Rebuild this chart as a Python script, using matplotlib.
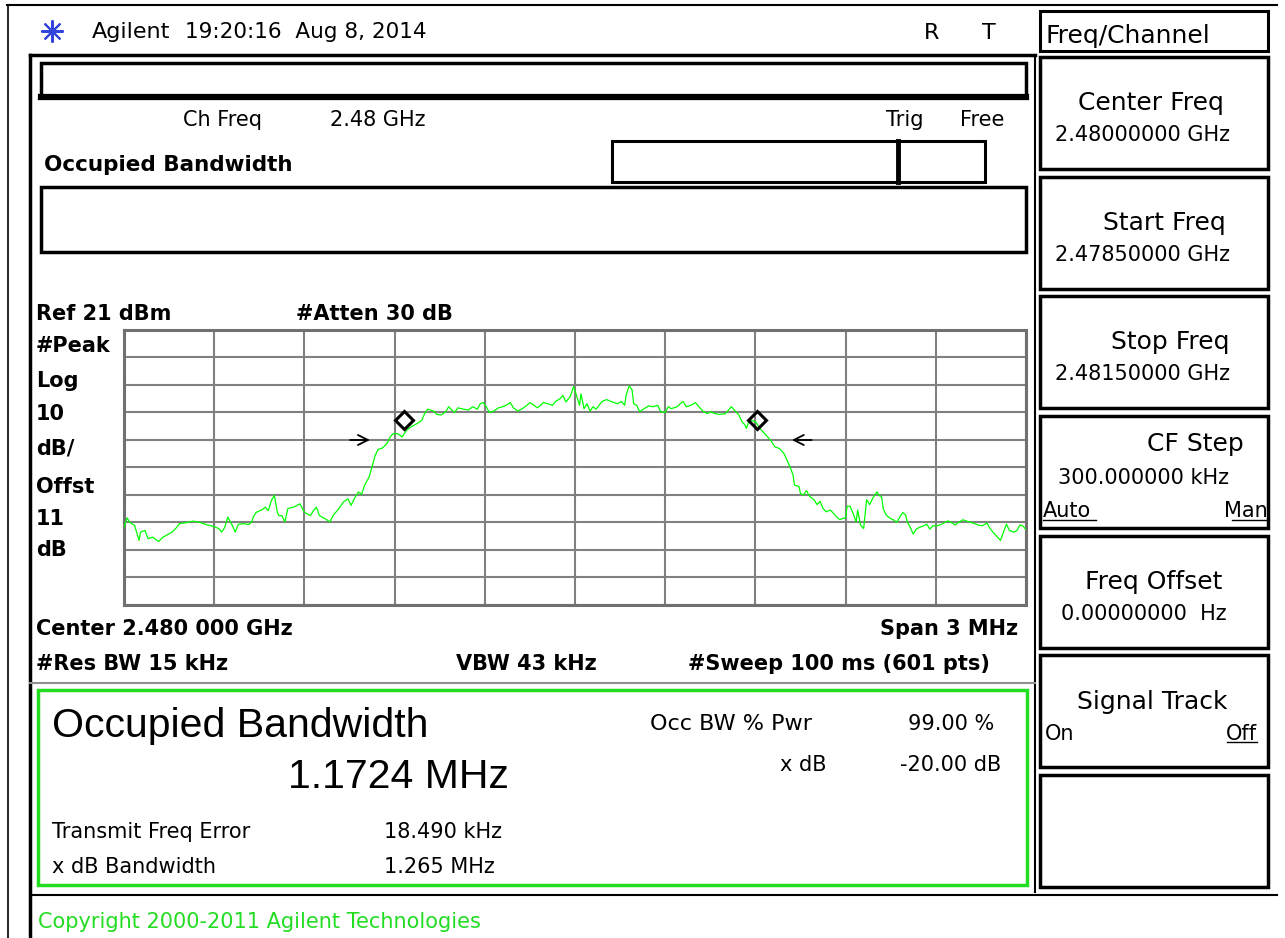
import matplotlib
matplotlib.use("Agg")
from matplotlib import pyplot as plt
from matplotlib.patches import Rectangle

# trace: offset from centre (kHz), level (dBm)
freq_offset_khz = [
    -1500, -1490, -1480, -1465, -1450, -1445, -1430, -1420, -1405, -1385,
    -1370, -1360, -1340, -1325, -1315, -1290, -1270, -1255, -1235, -1220,
    -1205, -1185, -1175, -1165, -1155, -1140, -1130, -1120, -1105, -1085,
    -1075, -1070, -1060, -1040, -1030, -1020, -1010, -1000, -990, -985,
    -975, -965, -955, -935, -915, -900, -880, -870, -860, -850,
    -830, -815, -805, -785, -770, -755, -745, -730, -720, -710,
    -700, -685, -675, -665, -655, -640, -625, -615, -605, -590,
    -575, -560, -545, -525, -510, -500, -490, -470, -460, -445,
    -430, -420, -410, -400, -390, -370, -355, -340, -325, -315,
    -305, -295, -285, -270, -255, -240, -225, -215, -205, -190,
    -175, -160, -150, -140, -125, -115, -105, -90, -75, -65,
    -50, -40, -30, -15, -5, 5, 15, 20, 30, 40,
    50, 60, 70, 90, 105, 120, 140, 155, 165, 170,
    180, 190, 195, 205, 215, 230, 245, 260, 275, 285,
    300, 310, 320, 340, 350, 360, 370, 385, 400, 410,
    425, 440, 450, 465, 480, 500, 515, 520, 530, 545,
    555, 565, 570, 580, 600, 615, 630, 650, 665, 680,
    695, 705, 715, 725, 730, 745, 750, 760, 770, 780,
    795, 805, 815, 825, 835, 850, 860, 870, 880, 900,
    905, 915, 925, 935, 940, 950, 960, 970, 980, 990,
    1000, 1005, 1010, 1020, 1025, 1035, 1050, 1060, 1070, 1080,
    1090, 1100, 1105, 1115, 1125, 1135, 1145, 1160, 1170, 1180,
    1190, 1205, 1220, 1230, 1240, 1255, 1265, 1275, 1290, 1310,
    1325, 1340, 1355, 1370, 1380, 1390, 1405, 1415, 1425, 1435,
    1445, 1460, 1470, 1480, 1490, 1500,
]
level_dbm = [
    -50.8, -47.3, -49.0, -50.0, -55.5, -52.5, -51.9, -54.9, -54.3, -55.9,
    -54.3, -53.7, -52.5, -50.8, -49.4, -49.0, -48.5, -48.8, -49.4, -50.0,
    -50.3, -51.2, -52.5, -50.8, -47.0, -50.0, -52.5, -49.7, -49.4, -49.7,
    -48.8, -47.0, -45.3, -44.3, -43.4, -44.7, -41.1, -39.1, -45.3, -46.5,
    -46.5, -48.8, -43.9, -43.4, -42.2, -45.3, -46.5, -44.7, -43.4, -46.5,
    -47.7, -48.8, -46.5, -43.9, -41.5, -40.4, -42.8, -39.5, -37.9, -38.8,
    -35.5, -32.5, -28.8, -24.7, -22.4, -21.9, -20.2, -17.9, -16.7, -16.7,
    -17.9, -15.4, -14.2, -13.0, -11.9, -9.4, -7.8, -8.5, -9.7, -9.9,
    -8.7, -6.9, -8.1, -9.0, -7.3, -7.8, -8.1, -6.9, -7.8, -5.8,
    -5.4, -6.9, -9.0, -8.5, -7.3, -6.9, -6.1, -5.4, -7.3, -8.5,
    -7.6, -6.4, -5.4, -6.1, -7.3, -6.4, -5.4, -5.8, -6.4, -5.0,
    -4.0, -2.8, -5.2, -3.0, 0.4, -2.8, -6.4, -2.2, -7.6, -5.8,
    -8.5, -6.9, -7.8, -5.0, -4.3, -5.0, -5.8, -5.0, -6.4, -2.8,
    0.7, -0.8, -5.8, -6.4, -8.7, -7.6, -6.6, -6.9, -6.4, -8.7,
    -9.0, -6.9, -7.6, -6.9, -5.8, -5.0, -6.9, -6.4, -5.4, -6.6,
    -8.5, -9.4, -8.7, -9.4, -9.7, -9.4, -7.6, -6.9, -8.1, -9.9,
    -12.3, -13.5, -14.8, -11.7, -12.3, -14.8, -16.6, -19.0, -21.5, -22.1,
    -23.9, -26.3, -28.8, -31.6, -35.4, -35.9, -38.5, -39.0, -37.4, -39.5,
    -40.7, -42.5, -41.3, -43.9, -45.1, -44.5, -45.7, -47.0, -47.9, -47.3,
    -43.1, -43.1, -45.7, -48.8, -44.5, -50.0, -51.2, -40.7, -42.5, -40.2,
    -38.5, -37.9, -39.0, -39.8, -43.9, -46.3, -47.6, -48.1, -49.0, -47.0,
    -45.4, -46.3, -48.8, -50.8, -53.2, -51.4, -50.8, -50.2, -49.6, -51.4,
    -50.2, -50.2, -49.6, -49.0, -48.4, -49.2, -49.9, -49.0, -48.0, -48.8,
    -49.2, -49.9, -50.2, -49.2, -51.1, -52.5, -54.3, -55.5, -52.5, -49.6,
    -51.9, -52.5, -51.9, -49.9, -50.3, -51.6,
]

ref_level = 21
db_per_div = 10
span_khz = 3000
obw_khz = 1172.4
freq_error_khz = 18.49
marker_level = -11.6
arrow_level = -19.0
arrow_tails = [-748, 787]
arrow_tips = [-682, 721]

softkeys = [
    ("Center Freq", "2.48000000 GHz"),
    ("Start Freq", "2.47850000 GHz"),
    ("Stop Freq", "2.48150000 GHz"),
    ("CF Step", "300.000000 kHz"),
    ("Freq Offset", "0.00000000  Hz"),
    ("Signal Track", ""),
    ("", ""),
]
softkey_title_x = [1078, 1103, 1111, 1147, 1085, 1077, 0]

GREEN = '#00ff00'
BOX_GREEN = '#22dd22'

fig = plt.figure(figsize=(12.85, 9.38), dpi=100)
bg = fig.add_axes([0, 0, 1, 1])
bg.set_xlim(0, 1285)
bg.set_ylim(938, 0)
bg.axis('off')


def box(x0, y0, x1, y1, lw=2.2, color='black'):
    bg.add_patch(Rectangle((x0, y0), x1 - x0, y1 - y0, fill=False,
                           lw=lw, edgecolor=color))


def txt(x, y, s, size=15, weight='normal', ha='left', family='DejaVu Sans',
        color='black'):
    return bg.text(x, y, s, fontsize=size, fontweight=weight, ha=ha,
                   va='baseline', family=family, color=color)


# outer frame
bg.plot([7, 1277], [5, 5], color='black', lw=1.5)
bg.plot([8, 8], [5, 938], color='black', lw=1.2)
bg.plot([30, 30], [55, 938], color='black', lw=2.5)
bg.plot([30, 1035], [55, 55], color='black', lw=2.5)
bg.plot([1035, 1035], [55, 892], color='black', lw=1.5)
bg.plot([30, 1277], [895, 895], color='black', lw=1.5)

# header
bg.plot(52, 31, marker=(8, 2, 0), ms=16, mew=1.5, color='#3344dd')
txt(92, 38, 'Agilent', size=16)
txt(185, 38, '19:20:16  Aug 8, 2014', size=15.5)
txt(924, 39, 'R', size=16)
txt(982, 39, 'T', size=16)
box(1040, 11, 1268, 51)
txt(1046, 43, 'Freq/Channel', size=18)

# measurement header boxes
box(41, 63, 1026, 97, lw=2.5)
bg.plot([41, 1026], [97, 97], color='black', lw=4.5)
txt(183, 126, 'Ch Freq')
txt(330, 126, '2.48 GHz')
txt(886, 126, 'Trig')
txt(960, 126, 'Free')
txt(44, 171, 'Occupied Bandwidth', weight='bold', size=15.5)
box(612, 141, 985, 182, lw=2.2)
bg.plot([898, 898], [141, 182], color='black', lw=3.5)
box(41, 187, 1026, 252, lw=2.5)

# trace annotations
txt(36, 320, 'Ref 21 dBm', weight='bold')
txt(296, 320, '#Atten 30 dB', weight='bold')
for label, yb in zip(['#Peak', 'Log', '10', 'dB/', 'Offst', '11', 'dB'],
                     [352, 387, 420, 454, 493, 525, 556]):
    txt(36, yb, label, weight='bold')
txt(36, 635, 'Center 2.480 000 GHz', weight='bold')
txt(1018, 635, 'Span 3 MHz', weight='bold', ha='right')
txt(36, 670, '#Res BW 15 kHz', weight='bold')
txt(456, 670, 'VBW 43 kHz', weight='bold')
txt(688, 670, '#Sweep 100 ms (601 pts)', weight='bold')

# result panel
bg.plot([30, 1035], [683, 683], color='#909090', lw=1.5)
box(38, 690, 1027, 885, lw=2.5, color=BOX_GREEN)
txt(52, 737, 'Occupied Bandwidth', size=29.5, family='Liberation Sans')
txt(288, 788, '1.1724 MHz', size=29.5, family='Liberation Sans')
txt(650, 730, 'Occ BW % Pwr', size=16)
txt(908, 730, '99.00 %')
txt(780, 771, 'x dB')
txt(900, 771, '-20.00 dB')
txt(52, 838, 'Transmit Freq Error')
txt(384, 838, '18.490 kHz')
txt(52, 873, 'x dB Bandwidth')
txt(384, 873, '1.265 MHz')
txt(38, 928, 'Copyright 2000-2011 Agilent Technologies', color=BOX_GREEN)

# softkey column
for i, (title, value) in enumerate(softkeys):
    top = 57 + i * 119.7
    box(1040, top, 1268, top + 112, lw=2.5)
    if title:
        ty = top + 53 if i != 3 else top + 35
        txt(softkey_title_x[i], ty, title, size=18)
    if value:
        vx = 1058 if i == 3 else (1061 if i == 4 else 1055)
        txt(vx, top + (68 if i == 3 else 84), value, size=15)
txt(1043, 57 + 3 * 119.7 + 101, 'Auto')
bg.plot([1043, 1096], [57 + 3 * 119.7 + 104] * 2, color='black', lw=1)
txt(1268, 57 + 3 * 119.7 + 101, 'Man', ha='right')
bg.plot([1232, 1268], [57 + 3 * 119.7 + 104] * 2, color='black', lw=1)
txt(1045, 57 + 5 * 119.7 + 84, 'On')
txt(1257, 57 + 5 * 119.7 + 84, 'Off', ha='right')
bg.plot([1227, 1257], [57 + 5 * 119.7 + 87] * 2, color='black', lw=1)

# spectrum graticule
ax = fig.add_axes([124 / 1285, 1 - 605 / 938, 902 / 1285, 275 / 938])
ax.set_xlim(-span_khz / 2, span_khz / 2)
ax.set_ylim(ref_level - 10 * db_per_div, ref_level)
ax.set_xticks([-span_khz / 2 + k * span_khz / 10 for k in range(11)])
ax.set_yticks([ref_level - k * db_per_div for k in range(11)])
ax.tick_params(length=0, labelbottom=False, labelleft=False)
ax.grid(True, color='#808080', lw=1.5)
for sp in ax.spines.values():
    sp.set_color('#707070')
    sp.set_linewidth(2.2)

ax.plot(freq_offset_khz, level_dbm, color=GREEN, lw=0.9, zorder=3)

edges = [freq_error_khz - obw_khz / 2, freq_error_khz + obw_khz / 2]
ax.plot(edges, [marker_level] * 2, ls='none', marker='D', ms=9,
        mfc='none', mec='black', mew=2.2, zorder=4)
for tail, tip in zip(arrow_tails, arrow_tips):
    ax.annotate('', xy=(tip, arrow_level), xytext=(tail, arrow_level),
                arrowprops=dict(arrowstyle='->', color='black', lw=1.3,
                                shrinkA=0, shrinkB=0, mutation_scale=18))

fig.savefig('out.png', dpi=100)
